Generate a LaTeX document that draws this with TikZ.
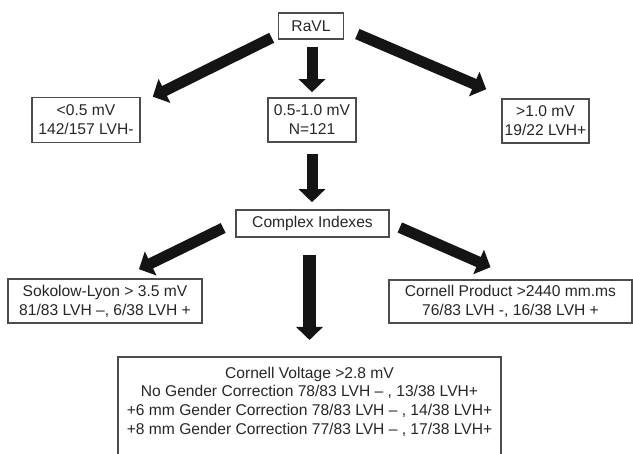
\documentclass[tikz,border=0pt]{standalone}
\usepackage{fontspec}
\setmainfont{Liberation Sans}
\usetikzlibrary{arrows.meta,calc}

\tikzset{
	box/.style={draw=black!70, line width=1.6pt, text=black!85, align=center, inner sep=0pt, font=\fontsize{15.6}{19}\selectfont},
	bigarrow/.style={line width=11pt, draw=black!92, -{Triangle[width=26pt,length=13pt]}}
}

\begin{document}
\begin{tikzpicture}[x=1pt,y=-1pt]
		\useasboundingbox (0,0) rectangle (633,454);
		\clip (0,0) rectangle (633,454);

		\node[box, minimum width=65, minimum height=26] (ravl) at (311,26) {RaVL};
		\node[box, minimum width=108, minimum height=45] (low) at (86,120) {<0.5 mV\\142/157 LVH-};
		\node[box, minimum width=88, minimum height=44] (mid) at (312,120) {0.5-1.0 mV\\N=121};
		\node[box, minimum width=87, minimum height=44] (high) at (545.5,121) {>1.0 mV\\19/22 LVH+};
		\node[box, minimum width=153, minimum height=27] (complex) at (312.5,223.5) {Complex Indexes};
		\node[box, minimum width=194, minimum height=44] (sokolow) at (105,301) {Sokolow-Lyon > 3.5 mV\\81/83 LVH –, 6/38 LVH +};
		\node[box, minimum width=243, minimum height=43] (product) at (510.5,301.5) {Cornell Product >2440 mm.ms\\76/83 LVH -, 16/38 LVH +};
		\node[box, minimum width=383, anchor=north, inner ysep=10pt, text depth=100pt, font=\fontsize{15.6}{18.7}\selectfont] (voltage) at (309.5,356)
			{Cornell Voltage >2.8 mV\\No Gender Correction 78/83 LVH – , 13/38 LVH+\\+6 mm Gender Correction 78/83 LVH – , 14/38 LVH+\\+8 mm Gender Correction 77/83 LVH – , 17/38 LVH+};

		\draw[bigarrow] ($(ravl.south west)+(-6,-2)$) -- ($(low.north east)+(12,0)$);
		\draw[bigarrow] ($(ravl.south)+(1,7)$) -- ($(mid.north)+(0,-5)$);
		\draw[bigarrow] ($(ravl.east)+(13,8)$) -- ($(high.north west)+(-15,-9)$);
		\draw[bigarrow] ($(mid.south)+(0,11)$) -- ($(complex.north)+(-0.5,-7)$);
		\draw[bigarrow] ($(complex.west)+(-12,4.5)$) -- ($(sokolow.north)+(34,-9)$);
		\draw[bigarrow] ($(complex.east)+(10,4)$) -- ($(product.north)+(-20,-12)$);
		\draw[bigarrow, line width=13pt] ($(complex.south)+(-3,17)$) -- ($(voltage.north)+(0,-16)$);
	\end{tikzpicture}
\end{document}
